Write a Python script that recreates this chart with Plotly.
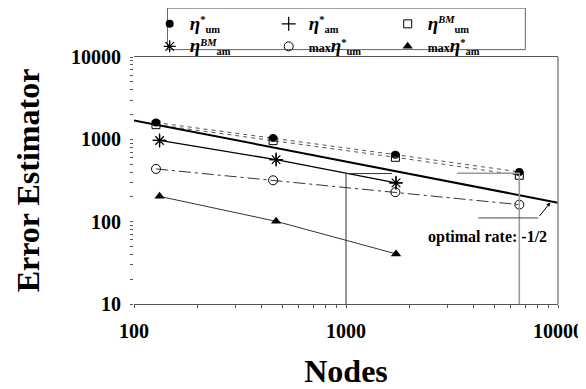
import plotly.graph_objects as go
import math

# ---- data ----
nodes_um = [127, 453, 1710, 6570]
nodes_am = [132, 468, 1722]
eta_um_star = [1600, 1040, 652, 402]
eta_am_star = [970, 567, 296]
eta_um_bm = [1507, 964, 605, 366]
eta_am_bm = [970, 567, 296]
max_eta_um = [437, 318, 228, 161]
max_eta_am = [203, 101, 40.6]
rate_x = [100, 10000]
rate_y = [1700, 170]
guide1_x = [1648, 1000, 1000]
guide1_y = [384, 384, 10]
guide2_x = [3342, 6570, 6570]
guide2_y = [386, 386, 10]
leader_x = [4207, 8070]
leader_y = [111, 111]
arrow_tip = (9200, 171)
rate_label = "optimal rate: -1/2"
rate_label_pos = (4650, 66)

SERIF = "Liberation Serif"
MAXS = "<span style='font-size:12px'>max</span>"
ETA = "<span style='font-size:19px'><i>η</i></span>"
names = [
    ETA + "<sup>*</sup><sub>um</sub>",
    ETA + "<sup>*</sup><sub>am</sub>",
    ETA + "<sup><i>BM</i></sup><sub>um</sub>",
    ETA + "<sup><i>BM</i></sup><sub>am</sub>",
    MAXS + ETA + "<sup>*</sup><sub>um</sub>",
    MAXS + ETA + "<sup>*</sup><sub>am</sub>",
]
markers = [
    dict(symbol="circle", size=8, color="black"),
    dict(symbol="cross-thin", size=10, color="black", line=dict(color="black", width=1.2)),
    dict(symbol="square-open", size=8, color="black", line=dict(width=1)),
    dict(symbol="asterisk-open", size=10, color="black", line=dict(color="black", width=1.3)),
    dict(symbol="circle-open", size=9, color="black", line=dict(width=1)),
    dict(symbol="triangle-up", size=9, color="black"),
]
series_x = [nodes_um, nodes_am, nodes_um, nodes_am, nodes_um, nodes_am]
series_y = [eta_um_star, eta_am_star, eta_um_bm, eta_am_bm, max_eta_um, max_eta_am]
lines = [
    dict(color="#555", width=1, dash="4px,4px"),
    None,
    dict(color="#555", width=1, dash="4px,4px"),
    dict(color="black", width=1.3),
    dict(color="#333", width=1, dash="12px,4px,3px,4px"),
    dict(color="#333", width=1),
]

fig = go.Figure()
for sx, sy, mk, ln in zip(series_x, series_y, markers, lines):
    if ln is None:
        fig.add_trace(go.Scatter(x=sx, y=sy, mode="markers", marker=mk, showlegend=False))
    else:
        fig.add_trace(go.Scatter(x=sx, y=sy, mode="lines+markers", line=ln, marker=mk, showlegend=False))

# legend entries (markers only, as in the reference)
for nm, mk in zip(names, markers):
    fig.add_trace(go.Scatter(x=[None], y=[None], mode="markers", name=nm, marker=mk))

# reference line and guide lines
fig.add_trace(go.Scatter(x=rate_x, y=rate_y, mode="lines", showlegend=False,
    line=dict(color="black", width=2), hoverinfo="skip"))
fig.add_trace(go.Scatter(x=guide1_x, y=guide1_y, mode="lines", showlegend=False,
    line=dict(color="#333", width=1), hoverinfo="skip"))
fig.add_trace(go.Scatter(x=guide2_x, y=guide2_y, mode="lines", showlegend=False,
    line=dict(color="#999", width=1.5), hoverinfo="skip"))
fig.add_trace(go.Scatter(x=leader_x, y=leader_y, mode="lines", showlegend=False,
    line=dict(color="#444", width=1), hoverinfo="skip"))

fig.add_annotation(x=math.log10(rate_label_pos[0]), y=math.log10(rate_label_pos[1]),
    xref="x", yref="y", text=rate_label, showarrow=False,
    font=dict(family=SERIF, size=16, color="black", weight="bold"))
fig.add_annotation(x=math.log10(arrow_tip[0]), y=math.log10(arrow_tip[1]),
    xref="x", yref="y", text="", showarrow=True, ax=-12, ay=15,
    arrowhead=2, arrowsize=0.8, arrowwidth=1, arrowcolor="black")

# right border
fig.add_shape(type="line", xref="paper", yref="paper", x0=1, x1=1, y0=0, y1=1,
              line=dict(color="#888", width=1.5))
# legend box
fig.add_shape(type="rect", xref="paper", yref="paper", x0=0.079, x1=0.923, y0=1.03, y1=1.198,
              line=dict(color="#666", width=1), fillcolor="rgba(0,0,0,0)")

tickfont = dict(family=SERIF, size=20, color="black", weight="bold")
fig.update_xaxes(type="log", range=[2, 4], showgrid=False, zeroline=False,
    showline=True, linecolor="#555", linewidth=1, mirror=True,
    ticks="outside", ticklen=3, tickcolor="#555",
    tickvals=[100, 1000, 10000], ticktext=["100", "1000", "10000"],
    minor=dict(ticks="outside", ticklen=3, tickcolor="#555", dtick="D1", showgrid=False),
    tickfont=tickfont, ticklabelstandoff=6,
    title=dict(text="Nodes", font=dict(family=SERIF, size=32, color="black", weight="bold"), standoff=18))
fig.update_yaxes(type="log", range=[1, 4], showgrid=False, zeroline=False,
    showline=False, ticks="outside", ticklen=3, tickcolor="#555",
    tickvals=[10, 100, 1000, 10000], ticktext=["10", "100", "1000", "10000"],
    minor=dict(ticks="outside", ticklen=3, tickcolor="#555", dtick="D1", showgrid=False),
    tickfont=tickfont, ticklabelstandoff=5,
    title=dict(text="Error Estimator", font=dict(family=SERIF, size=32, color="black", weight="bold"), standoff=21))

fig.update_layout(
    width=586, height=389,
    margin=dict(l=125.5, r=36.3, t=49.3, b=92.5, autoexpand=False),
    paper_bgcolor="white", plot_bgcolor="white",
    font=dict(family=SERIF, color="black"),
    legend=dict(orientation="h", x=0.037, xanchor="left", y=1.2, yanchor="top",
                entrywidth=74, borderwidth=0, bgcolor="rgba(0,0,0,0)",
                font=dict(family=SERIF, size=15, color="black", weight="bold"),
                itemwidth=30, tracegroupgap=0),
)

fig.write_html("out.html")
